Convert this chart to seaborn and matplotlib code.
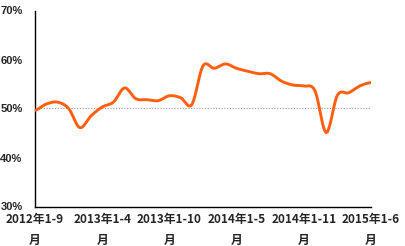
import numpy as np
import pandas as pd
import matplotlib
matplotlib.use("Agg")
import matplotlib.pyplot as plt
import seaborn as sns

sns.set_style("white")
plt.rcParams['font.family'] = ['Noto Sans CJK SC', 'DejaVu Sans']

# Data: cumulative monthly ratio (%), 2012 1-9月 .. 2015 1-6月
values = [49.6, 50.9, 51.3, 50.0, 46.1, 48.5, 50.3, 51.3, 54.2, 52.0,
          51.8, 51.6, 52.6, 52.2, 50.8, 58.7, 58.2, 59.1, 58.2, 57.6,
          57.1, 57.1, 55.6, 54.8, 54.6, 53.6, 45.1, 52.7, 53.2, 54.6, 55.3]
tick_labels = ["2012年1-9\n月", "2013年1-4\n月", "2013年1-10\n月",
               "2014年1-5\n月", "2014年1-11\n月", "2015年1-6\n月"]
y_ticks = [30, 40, 50, 60, 70]
ref_level = 50

# Smoothed line (Catmull-Rom, like a spreadsheet smooth line)
p = np.array(values, dtype=float)
n = len(p)
xs, ys = [], []
for i in range(n - 1):
    p0 = p[i - 1] if i > 0 else p[i]
    p1 = p[i]
    p2 = p[i + 1]
    p3 = p[i + 2] if i + 2 < n else p[i + 1]
    t = np.linspace(0, 1, 20, endpoint=False)
    y = 0.5 * ((2 * p1) + (-p0 + p2) * t + (2 * p0 - 5 * p1 + 4 * p2 - p3) * t ** 2
               + (-p0 + 3 * p1 - 3 * p2 + p3) * t ** 3)
    xs.extend(i + t)
    ys.extend(y)
xs.append(n - 1)
ys.append(p[-1])
df = pd.DataFrame({"x": xs, "y": ys})

fig = plt.figure(figsize=(4.06, 2.46), dpi=100)
ax = fig.add_axes([35 / 406, 1 - 206.5 / 246, 336 / 406, 196 / 246])

ax.axhline(ref_level, color="#999999", lw=0.8, ls=(0, (1, 1.5)), zorder=1)
sns.lineplot(data=df, x="x", y="y", ax=ax, color="#FF5F0F", lw=2.1, zorder=3)

ax.set_xlim(0, n - 1)
ax.set_ylim(30, 70)
ax.set_xticks(range(0, n, 6))
ax.set_xticks(range(3, n, 6), minor=True)
ax.set_xticklabels(tick_labels, fontsize=8.5, fontweight="bold", linespacing=1.8)
ax.set_yticks(y_ticks)
ax.set_yticklabels([f"{v}%" for v in y_ticks], fontsize=8, fontweight="bold",
                   family=["Liberation Sans"])
ax.tick_params(axis="x", which="both", direction="in", length=3, width=0.8,
               color="black", pad=5)
ax.tick_params(axis="y", length=0, pad=9)
ax.set_xlabel("")
ax.set_ylabel("")
for s in ["top", "right"]:
    ax.spines[s].set_visible(False)
for s in ["left", "bottom"]:
    ax.spines[s].set_color("black")
    ax.spines[s].set_linewidth(1.0)

fig.savefig("out.png", dpi=100)
